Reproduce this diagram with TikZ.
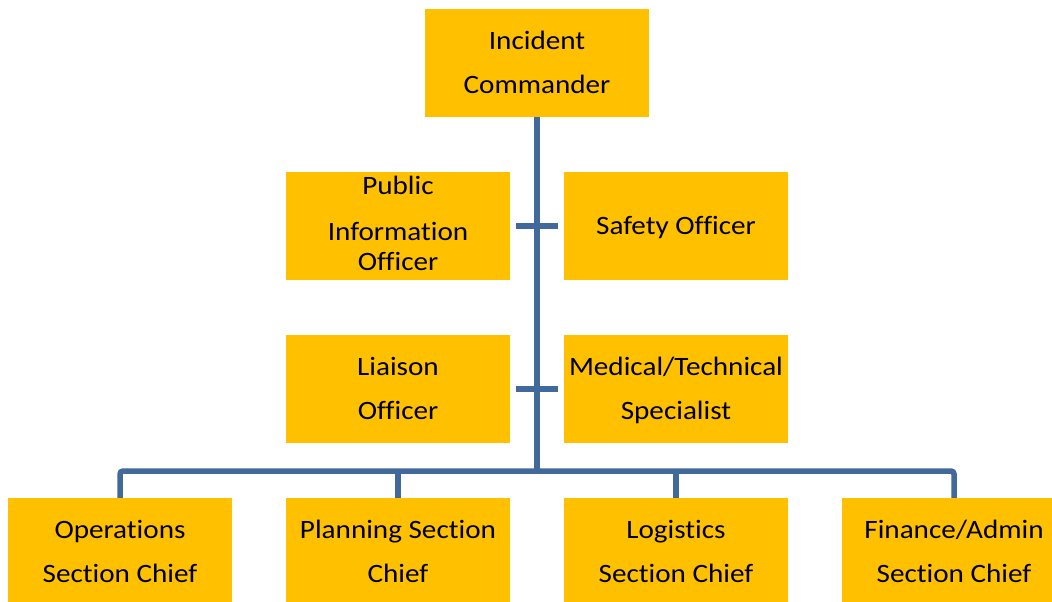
\documentclass[tikz,border=0pt]{standalone}
\usepackage{fontspec}
\setmainfont{Carlito}[FakeStretch=1.1, Ligatures={NoCommon}]
\usetikzlibrary{calc}
\definecolor{boxgold}{RGB}{255,192,0}
\definecolor{lineblue}{RGB}{65,105,156}
\begin{document}
\begin{tikzpicture}[x=1pt,y=-1pt,
  box/.style={rectangle, fill=boxgold, minimum width=224pt, minimum height=108pt,
    inner sep=0pt, align=center, font=\fontsize{26.5}{44}\selectfont},
  conn/.style={draw=lineblue, line width=5.5pt},
  bus/.style={conn, rounded corners=3pt}]
\useasboundingbox (0,0) rectangle (1052,602);
\clip (0,0) rectangle (1052,602);
\fill[white] (0,0) rectangle (1052,602);

\node[box] (ic)  at (537,63)  {\strut Incident\\Commander\strut};
\node[box, font=\fontsize{26.5}{30}\selectfont] (pio) at (398,226)
  {\strut Public\\[16pt]Information\\Officer\strut};
\node[box] (so)  at (676,226) {\strut Safety Officer};
\node[box] (lo)  at (398,389) {\strut Liaison\\Officer\strut};
\node[box] (mts) at (676,389) {\strut Medical/Technical\\Specialist\strut};
\node[box] (ops) at (120,552) {\strut Operations\\Section Chief\strut};
\node[box] (pln) at (398,552) {\strut Planning Section\\Chief\strut};
\node[box] (lgs) at (676,552) {\strut Logistics\\Section Chief\strut};
\node[box] (fin) at (954,552) {\strut Finance/Admin\\Section Chief\strut};

\coordinate (hub) at (537,471);

\draw[conn] (ic.south) -- (ic.south |- hub);
\draw[conn] ($(pio.east)+(6,0)$) -- ($(so.west)-(6,0)$);
\draw[conn] ($(lo.east)+(6,0)$) -- ($(mts.west)-(6,0)$);
\draw[bus] (ops.north) -- (ops.north |- hub) -- (fin.north |- hub) -- (fin.north);
\draw[conn] (pln.north) -- (pln.north |- hub);
\draw[conn] (lgs.north) -- (lgs.north |- hub);
\end{tikzpicture}
\end{document}
